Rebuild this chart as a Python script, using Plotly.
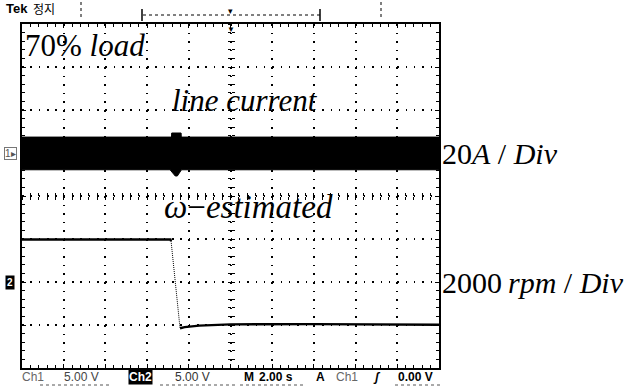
import plotly.graph_objects as go

# ---------------- data ----------------
# time axis: 2.00 s / div, 10 divisions
time_range = [0, 20]
# channel 1: line current (A), 20 A/div -> envelope of the (dense) sinusoid
cur_t_upper = [0.0, 7.17, 7.18, 7.63, 7.64, 20.0]
cur_upper = [7.4, 7.4, 9.3, 9.3, 7.4, 7.4]
cur_t_lower = [0.0, 7.10, 7.35, 7.45, 7.65, 20.0]
cur_lower = [-7.8, -7.8, -10.7, -10.7, -7.8, -7.8]
# channel 2: estimated speed (rpm), 2000 rpm/div
spd_t = [0.0, 3.0, 7.12, 7.15, 7.58, 7.8, 8.5, 10.0, 14.0, 20.0]
spd = [1980, 1990, 1980, 1900, -2150, -2100, -2030, -1970, -1960, -1990]

# ---------------- geometry helpers ----------------
W, H = 628, 390
L, R, T, B = 22, 439, 24, 368


def xp(px):
    return (px - L) / (R - L)


def yp(py):
    return (B - py) / (B - T)


fig = go.Figure()

# line current band (envelope filled)
fig.add_trace(go.Scatter(
    x=cur_t_upper + cur_t_lower[::-1],
    y=cur_upper + cur_lower[::-1],
    fill="toself", fillcolor="black", mode="lines",
    line=dict(color="black", width=1), yaxis="y", hoverinfo="skip"))

# speed trace: flat parts thick, fast transition drawn thin (sparse samples)
fig.add_trace(go.Scatter(
    x=spd_t[:4], y=spd[:4], mode="lines", yaxis="y2",
    line=dict(color="black", width=2.4), hoverinfo="skip"))
fig.add_trace(go.Scatter(
    x=spd_t[3:5], y=spd[3:5], mode="lines", yaxis="y2",
    line=dict(color="black", width=1, dash="1px,1px"), hoverinfo="skip"))
fig.add_trace(go.Scatter(
    x=spd_t[4:], y=spd[4:], mode="lines", yaxis="y2",
    line=dict(color="black", width=2.4), hoverinfo="skip"))

# dummy traces so centre-crosshair axes are drawn
for xa, ya in [("x2", "y"), ("x3", "y"), ("x", "y3"), ("x", "y4")]:
    fig.add_trace(go.Scatter(x=[None], y=[None], xaxis=xa, yaxis=ya,
                             mode="lines", showlegend=False))

frame = dict(showline=True, linecolor="black", linewidth=2, mirror="ticks",
             ticks="inside", ticklen=4, tickcolor="black", tickwidth=1,
             showticklabels=False, zeroline=False, showgrid=True,
             gridcolor="black", gridwidth=1.5, fixedrange=True)

centre = dict(showline=False, showgrid=False, zeroline=False,
              showticklabels=False, tickcolor="black", tickwidth=1,
              ticklen=3, anchor="free", position=0.5, fixedrange=True)

fig.update_layout(
    width=W, height=H,
    margin=dict(l=L, r=W - R, t=T, b=H - B, pad=0),
    paper_bgcolor="white", plot_bgcolor="white", showlegend=False,
    xaxis=dict(range=time_range, dtick=2, tick0=0,
               griddash="1.5px,7.1px",
               minor=dict(dtick=0.4, ticks="inside", ticklen=3,
                          tickcolor="black", showgrid=False), **frame),
    yaxis=dict(range=[-100, 60], dtick=20, tick0=0,
               griddash="1.5px,6.84px",
               minor=dict(dtick=4, ticks="inside", ticklen=3,
                          tickcolor="black", showgrid=False), **frame),
    yaxis2=dict(range=[-4000, 12000], overlaying="y", visible=False,
                fixedrange=True),
    xaxis2=dict(range=time_range, overlaying="x", dtick=2, ticks="outside",
                minor=dict(dtick=0.4, ticks="outside", ticklen=3,
                           tickcolor="black"), **centre),
    xaxis3=dict(range=time_range, overlaying="x", dtick=2, ticks="inside",
                minor=dict(dtick=0.4, ticks="inside", ticklen=3,
                           tickcolor="black"), **centre),
    yaxis3=dict(range=[-100, 60], overlaying="y", dtick=20, ticks="outside",
                minor=dict(dtick=4, ticks="outside", ticklen=3,
                           tickcolor="black"), **centre),
    yaxis4=dict(range=[-100, 60], overlaying="y", dtick=20, ticks="inside",
                minor=dict(dtick=4, ticks="inside", ticklen=3,
                           tickcolor="black"), **centre),
)

SERIF = "Liberation Serif"
SANS = "Liberation Sans"
ann = []

# in-plot labels
ann.append(dict(text="70% <i>load</i>", xref="paper", yref="paper",
                x=xp(23), y=yp(45), xanchor="left", yanchor="middle",
                showarrow=False, font=dict(family=SERIF, size=31, color="black")))
ann.append(dict(text="<i>line current</i>", xref="paper", yref="paper",
                x=xp(245), y=yp(101), xanchor="center", yanchor="middle",
                showarrow=False, font=dict(family=SERIF, size=31, color="black")))
ann.append(dict(text="<i>ω</i>−<i>estimated</i>", xref="paper", yref="paper",
                x=xp(249), y=yp(207), xanchor="center", yanchor="middle",
                showarrow=False, font=dict(family=SERIF, size=33, color="black")))

# scale labels on the right, placed at each channel's ground level
ann.append(dict(text="20<i>A</i> / <i>Div</i>", xref="paper", yref="y",
                x=xp(440), y=0, xanchor="left", yanchor="middle",
                showarrow=False, font=dict(family=SERIF, size=30, color="black")))
ann.append(dict(text="2000\u2009<i>rpm</i> / <i>Div</i>", xref="paper",
                yref="y2", x=xp(440), y=0, xanchor="left", yanchor="middle",
                showarrow=False, font=dict(family=SERIF, size=30, color="black")))

# channel ground markers on the left
ann.append(dict(text="1▸", xref="paper", yref="y", x=xp(4), y=0,
                xanchor="left", yanchor="middle", showarrow=False,
                font=dict(family=SANS, size=10, color="#555"),
                bordercolor="#777", borderwidth=1, borderpad=0))
ann.append(dict(text="<b>2</b>", xref="paper", yref="y2", x=xp(5), y=0,
                xanchor="left", yanchor="middle", showarrow=False,
                font=dict(family=SANS, size=10, color="white"),
                bgcolor="black", borderpad=1))

# header
ann.append(dict(text="<b>Tek</b>", xref="paper", yref="paper", x=xp(4),
                y=yp(9), xanchor="left", yanchor="middle", showarrow=False,
                font=dict(family=SANS, size=13, color="black")))
ann.append(dict(text="정지", xref="paper", yref="paper", x=xp(31),
                y=yp(9), xanchor="left", yanchor="middle", showarrow=False,
                font=dict(family="Noto Sans CJK KR", size=12, color="black")))
ann.append(dict(text="▼", xref="paper", yref="paper", x=0.5, y=1,
                xanchor="center", yanchor="top", showarrow=False,
                font=dict(size=8, color="black"), yshift=3))
ann.append(dict(text="▾", xref="paper", yref="paper", x=0.5, y=yp(11),
                xanchor="center", yanchor="middle", showarrow=False,
                font=dict(size=9, color="black")))

# status bar
sb_y = yp(377)
status = [
    ("Ch1", 20, False, "#666", None),
    ("5.00 V", 62, False, "#444", None),
    ("Ch2", 128, True, "white", "black"),
    ("5.00 V", 173, False, "#333", None),
    ("M", 242, True, "black", None),
    ("2.00 s", 257, True, "black", None),
    ("A", 314, True, "black", None),
    ("Ch1", 334, False, "#666", None),
    ("<i>ʃ</i>", 371, True, "black", None),
    ("0.00 V", 396, True, "black", None),
]
for txt, x0, bold, col, bg in status:
    d = dict(text=(f"<b>{txt}</b>" if bold else txt), xref="paper",
             yref="paper", x=xp(x0), y=sb_y, xanchor="left",
             yanchor="middle", showarrow=False,
             font=dict(family=SANS, size=12, color=col))
    if bg:
        d["bgcolor"] = bg
        d["borderpad"] = 0
    ann.append(d)

fig.update_layout(annotations=ann)

# decorative header / status-bar dotted markers
shapes = []
for xpx in (81, 381):
    shapes.append(dict(type="line", xref="paper", yref="paper",
                       x0=xp(xpx), x1=xp(xpx), y0=yp(2), y1=yp(20),
                       line=dict(color="black", width=1, dash="dot")))
shapes.append(dict(type="line", xref="paper", yref="paper",
                   x0=xp(143), x1=xp(320), y0=yp(15), y1=yp(15),
                   line=dict(color="black", width=1, dash="dot")))
for xpx in (142, 320):
    shapes.append(dict(type="line", xref="paper", yref="paper",
                       x0=xp(xpx), x1=xp(xpx), y0=yp(9), y1=yp(21),
                       line=dict(color="black", width=1.5)))
for x0, x1 in ((40, 110), (160, 237), (240, 303), (395, 440)):
    shapes.append(dict(type="line", xref="paper", yref="paper",
                       x0=xp(x0), x1=xp(x1), y0=yp(385), y1=yp(385),
                       line=dict(color="#555", width=1, dash="dot")))
fig.update_layout(shapes=shapes)

fig.write_html("out.html", config={"displayModeBar": False},
               post_script="document.body.style.margin='0';"
                           "document.body.style.overflow='hidden';")
